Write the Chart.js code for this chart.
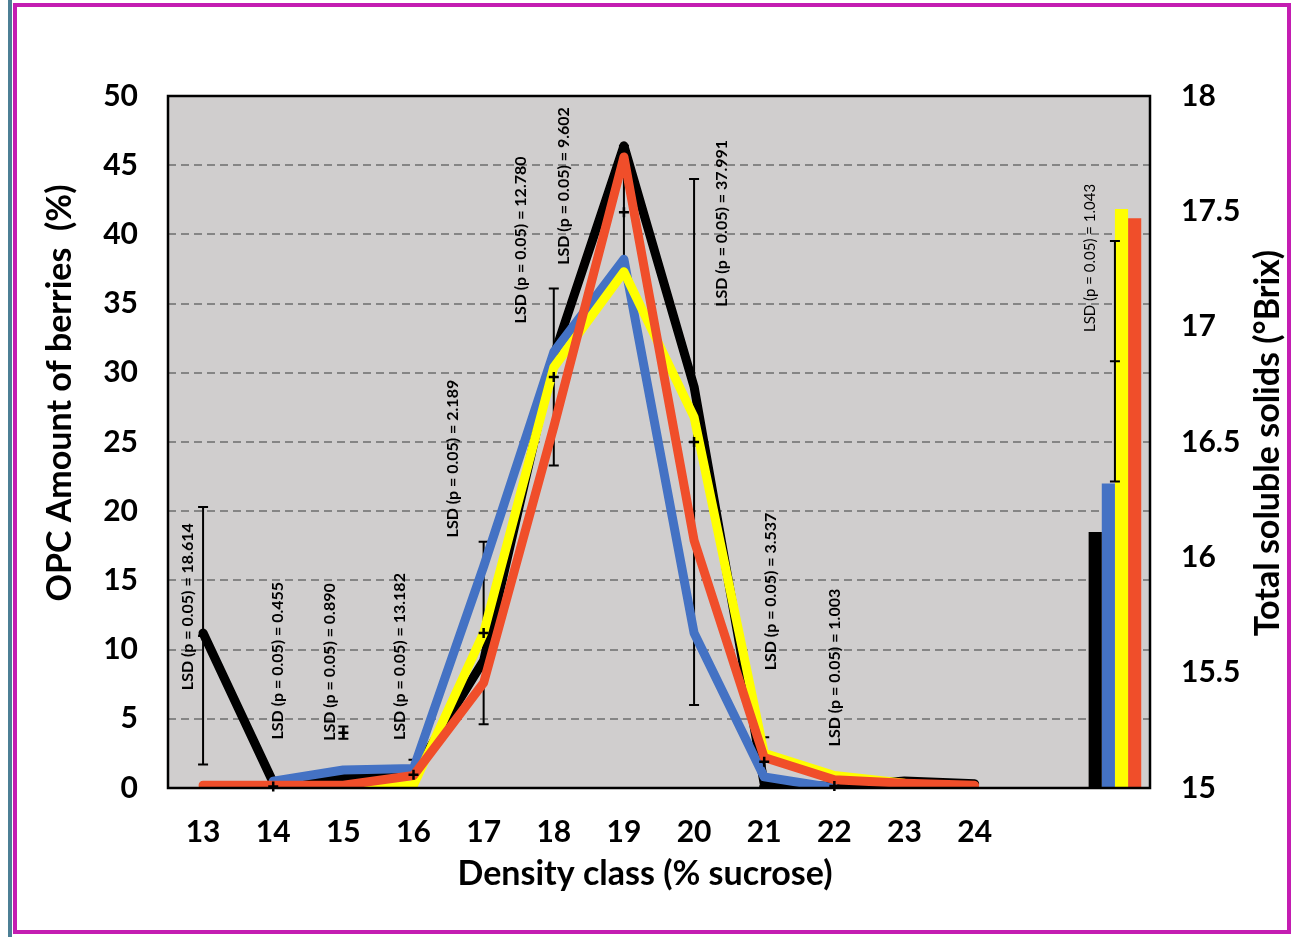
<!DOCTYPE html>
<html>
<head>
<meta charset="utf-8">
<script src="https://cdn.jsdelivr.net/npm/chart.js@4.4.1/dist/chart.umd.min.js"></script>
<style>
  body { margin: 0; background: #fff; }
  #wrap { position: relative; width: 1294px; height: 937px; overflow: hidden; }
  #teal { position: absolute; left: 8px; top: 0; width: 4px; height: 937px; background: #4c7f95; }
  #frame { position: absolute; left: 13px; top: 3px; width: 1270px; height: 923px; border: 4px solid #c41db2; }
  canvas { position: absolute; left: 0; top: 0; }
</style>
</head>
<body>
<div id="wrap">
  <div id="teal"></div>
  <div id="frame"></div>
  <canvas id="chart" width="1294" height="937"></canvas>
</div>
<script>
// density classes (% sucrose); two empty slots hold the soluble-solids bars
const densityClasses = ["13", "14", "15", "16", "17", "18", "19", "20", "21", "22", "23", "24", "", ""];

// OPC amount of berries (%) per density class
const seriesBlack  = [11.2, 0.4, 0.7, 1.0, 9.2, 31.2, 46.4, 29.0, 0.3, 0.1, 0.5, 0.3];
const seriesBlue   = [null, 0.5, 1.3, 1.4, 16.0, 31.5, 38.2, 11.2, 0.8, 0.0, null, null];
const seriesYellow = [0.0, 0.0, 0.0, 0.2, 11.2, 30.4, 37.3, 26.8, 2.5, 0.9, 0.35, null];
const seriesRed    = [0.2, 0.2, 0.2, 0.9, 7.6, 26.1, 45.6, 17.9, 2.2, 0.6, 0.35, 0.2];

// total soluble solids (°Brix)
const brixBlack = 16.11;
const brixBlue = 16.32;
const brixYellow = 17.51;
const brixRed = 17.47;

// LSD (p = 0.05) per density class 13..22 and the mean marks they sit on
const lsdValues = [18.614, 0.455, 0.890, 2.189, 13.182, 12.780, 9.602, 37.991, 3.537, 1.003];
const lsdCentres = [11.0, 0.1, 4.0, 0.95, 11.2, 29.7, 41.6, 25.0, 1.9, 0.15];
const brixLsd = 1.043;
const brixLsdCentre = 16.85;

const leftTicks = { min: 0, max: 50, step: 5 };
const rightTicks = { min: 15, max: 18, step: 0.5 };

const barSlot = densityClasses.length - 1;
const onlyInSlot = (v) => densityClasses.map((_, i) => (i === barSlot ? v : null));

const FONT = "Lato";

function lsdText(v) {
  return "LSD (p = 0.05) = " + v.toFixed(3);
}

// where each LSD note sits: category index, value on the left axis
const lsdNoteAt = [
  [-0.21, 13.1], [1.06, 9.2], [1.81, 9.1], [3.56, 23.8], [2.81, 9.5],
  [4.53, 39.6], [5.14, 43.5], [7.39, 40.8], [8.10, 14.2], [9.01, 8.7],
];
const brixNoteAt = [12.64, 38.3];

const plotDecor = {
  id: "plotDecor",
  beforeDatasetsDraw(chart) {
    const { ctx, chartArea: a } = chart;
    ctx.save();
    ctx.fillStyle = "#d0cece";
    ctx.fillRect(a.left, a.top, a.right - a.left, a.bottom - a.top);
    ctx.restore();
    // redraw dashed grid over the fill
    chart.scales.y.drawGrid(a);

    // error bars of the lines sit below the lines
    const x = chart.scales.x, y = chart.scales.y;
    ctx.save();
    ctx.beginPath();
    ctx.rect(a.left, a.top, a.right - a.left, a.bottom - a.top);
    ctx.clip();
    ctx.strokeStyle = "#000";
    ctx.lineWidth = 2;
    lsdValues.forEach((v, i) => {
      const px = x.getPixelForValue(i);
      const t = y.getPixelForValue(lsdCentres[i] + v / 2);
      const b = y.getPixelForValue(lsdCentres[i] - v / 2);
      ctx.beginPath();
      ctx.moveTo(px, t); ctx.lineTo(px, b);
      ctx.moveTo(px - 5, t); ctx.lineTo(px + 5, t);
      ctx.moveTo(px - 5, b); ctx.lineTo(px + 5, b);
      ctx.stroke();
    });
    ctx.restore();
  },
  afterDatasetsDraw(chart) {
    const { ctx, chartArea: a } = chart;
    const x = chart.scales.x, y = chart.scales.y, y2 = chart.scales.y2;
    ctx.save();
    ctx.strokeStyle = "#000";
    ctx.lineWidth = 2.5;
    lsdCentres.forEach((c, i) => {
      const px = x.getPixelForValue(i);
      const py = y.getPixelForValue(c);
      ctx.beginPath();
      ctx.moveTo(px - 5, py); ctx.lineTo(px + 5, py);
      ctx.moveTo(px, py - 5); ctx.lineTo(px, py + 5);
      ctx.stroke();
    });

    // error bar of the soluble solids bars
    const bx = x.getPixelForValue(barSlot);
    const bt = y2.getPixelForValue(brixLsdCentre + brixLsd / 2);
    const bb = y2.getPixelForValue(brixLsdCentre - brixLsd / 2);
    const bm = y2.getPixelForValue(brixLsdCentre);
    ctx.lineWidth = 2;
    ctx.beginPath();
    ctx.moveTo(bx, bt); ctx.lineTo(bx, bb);
    ctx.moveTo(bx - 5, bt); ctx.lineTo(bx + 5, bt);
    ctx.moveTo(bx - 5, bb); ctx.lineTo(bx + 5, bb);
    ctx.moveTo(bx - 5, bm); ctx.lineTo(bx + 5, bm);
    ctx.stroke();

    // plot frame
    ctx.lineWidth = 2.5;
    ctx.strokeRect(a.left, a.top, a.right - a.left, a.bottom - a.top);

    // LSD notes
    ctx.fillStyle = "#000";
    ctx.textAlign = "center";
    ctx.textBaseline = "middle";
    ctx.font = "bold 16px " + FONT;
    lsdValues.forEach((v, i) => {
      const [ix, iy] = lsdNoteAt[i];
      ctx.save();
      ctx.translate(x.getPixelForValue(ix), y.getPixelForValue(iy));
      ctx.rotate(-Math.PI / 2);
      ctx.fillText(lsdText(v), 0, 0);
      ctx.restore();
    });
    ctx.save();
    ctx.font = "15px " + FONT;
    ctx.translate(x.getPixelForValue(brixNoteAt[0]), y.getPixelForValue(brixNoteAt[1]));
    ctx.rotate(-Math.PI / 2);
    ctx.fillText(lsdText(brixLsd), 0, 0);
    ctx.restore();
    ctx.restore();
  },
  afterDraw(chart) {
    const { ctx } = chart;
    ctx.save();
    ctx.fillStyle = "#000";
    ctx.textAlign = "center";
    ctx.textBaseline = "middle";
    ctx.font = "bold 34px " + FONT;
    ctx.fillText("Density class (% sucrose)", 645, 874);
    ctx.save();
    ctx.translate(60, 393);
    ctx.rotate(-Math.PI / 2);
    ctx.fillText("OPC Amount of berries  (%)", 0, 0);
    ctx.restore();
    ctx.save();
    ctx.translate(1268, 443);
    ctx.rotate(-Math.PI / 2);
    ctx.fillText("Total soluble solids (°Brix)", 0, 0);
    ctx.restore();
    ctx.restore();
  },
};

function lineSet(label, data, color, order) {
  return {
    type: "line",
    label,
    data,
    yAxisID: "y",
    borderColor: color,
    backgroundColor: color,
    borderWidth: 9,
    pointRadius: 0,
    borderJoinStyle: "round",
    borderCapStyle: "round",
    tension: 0,
    order,
  };
}

function barSet(label, value, color) {
  return {
    type: "bar",
    label,
    data: onlyInSlot(value),
    yAxisID: "y2",
    backgroundColor: color,
    barPercentage: 1,
    categoryPercentage: 0.75,
    order: 10,
  };
}

const tickFont = { family: FONT, size: 30, weight: "bold" };

new Chart(document.getElementById("chart"), {
  type: "bar",
  data: {
    labels: densityClasses,
    datasets: [
      lineSet("Black", seriesBlack, "#000000", 4),
      lineSet("Blue", seriesBlue, "#4472c4", 3),
      lineSet("Yellow", seriesYellow, "#ffff00", 2),
      lineSet("Red", seriesRed, "#f04e2a", 1),
      barSet("Black TSS", brixBlack, "#000000"),
      barSet("Blue TSS", brixBlue, "#4472c4"),
      barSet("Yellow TSS", brixYellow, "#ffff00"),
      barSet("Red TSS", brixRed, "#f04e2a"),
    ],
  },
  options: {
    responsive: false,
    animation: false,
    layout: { padding: { left: 20, top: 96, right: 0, bottom: 0 } },
    plugins: {
      legend: { display: false },
      tooltip: { enabled: false },
    },
    scales: {
      x: {
        type: "category",
        offset: true,
        grid: { display: false, drawTicks: false },
        border: { display: false },
        ticks: { color: "#000", font: tickFont, padding: 26, maxRotation: 0, autoSkip: false },
        afterFit: (s) => { s.height = 149; },
      },
      y: {
        position: "left",
        min: leftTicks.min,
        max: leftTicks.max,
        ticks: { stepSize: leftTicks.step, color: "#000", font: tickFont, padding: 30 },
        grid: {
          drawTicks: false,
          lineWidth: 2,
          color: (c) => (c.tick && (c.tick.value === leftTicks.min || c.tick.value === leftTicks.max) ? "rgba(0,0,0,0)" : "#858585"),
        },
        border: { display: false, dash: [8, 5] },
        afterFit: (s) => { s.width = 148; },
      },
      y2: {
        position: "right",
        min: rightTicks.min,
        max: rightTicks.max,
        ticks: { stepSize: rightTicks.step, color: "#000", font: tickFont, padding: 31, callback: (v) => String(v) },
        grid: { display: false, drawTicks: false },
        border: { display: false },
        afterFit: (s) => { s.width = 144; },
      },
    },
  },
  plugins: [plotDecor],
});
</script>
</body>
</html>
